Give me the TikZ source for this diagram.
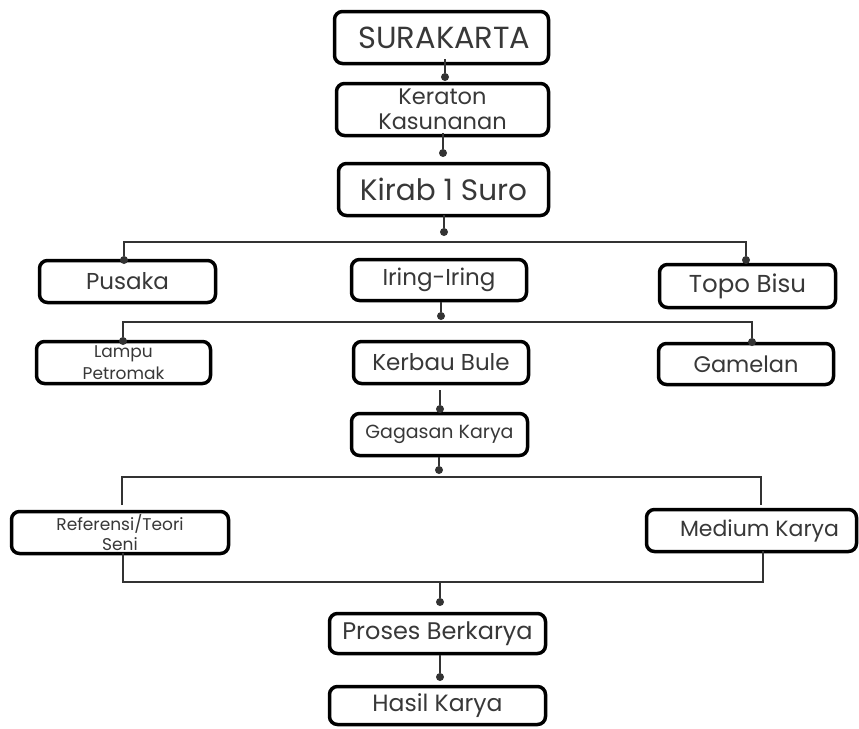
\documentclass[tikz,border=0pt]{standalone}
\usepackage{fontspec}
\setmainfont{Poppins}
\definecolor{txt}{HTML}{383838}
\definecolor{ln}{HTML}{333333}
\begin{document}
\begin{tikzpicture}[x=1pt,y=-1pt,
  box/.style={draw=black, line width=3.5pt, rounded corners=8pt, inner sep=0pt,
    text=txt, align=center, fill=white},
  conn/.style={draw=ln, line width=2pt},
  dot/.style={circle, fill=ln, inner sep=0pt, minimum size=8pt}]
\useasboundingbox (0,0) rectangle (859,728);
% boxes
\node[box, minimum width=214pt, minimum height=52pt, font=\fontsize{30.5}{34}\selectfont] (sura) at (441.5,37.5) {\hspace*{6pt}SURAKARTA};
\node[box, minimum width=212pt, minimum height=52pt, font=\fontsize{22.5}{25}\selectfont] (kera) at (442.5,109.5) {Keraton\\Kasunanan};
\node[box, minimum width=210pt, minimum height=52pt, font=\fontsize{29.5}{33}\selectfont] (kirab) at (443.5,189.5) {Kirab 1 Suro};
\node[box, minimum width=176pt, minimum height=42pt, font=\fontsize{23}{26}\selectfont] (pusaka) at (127.5,281.5) {Pusaka};
\node[box, minimum width=175pt, minimum height=41pt, font=\fontsize{23}{26}\selectfont] (iring) at (439,280) {Iring-Iring};
\node[box, minimum width=176pt, minimum height=43pt, font=\fontsize{24.5}{27}\selectfont] (topo) at (747.5,286) {Topo Bisu};
\node[box, minimum width=174pt, minimum height=42pt, font=\fontsize{17}{22}\selectfont] (lampu) at (123.5,362.5) {\raisebox{-2pt}{Lampu}\\\raisebox{-2pt}{Petromak}};
\node[box, minimum width=175pt, minimum height=42pt, font=\fontsize{23}{26}\selectfont] (kerbau) at (441,362.5) {Kerbau Bule};
\node[box, minimum width=175pt, minimum height=41pt, font=\fontsize{22.5}{26}\selectfont] (gamelan) at (746,364) {Gamelan};
\node[box, minimum width=176pt, minimum height=42pt, font=\fontsize{19}{24}\selectfont] (gagasan) at (439.5,434.5) {Gagasan Karya};
\node[box, minimum width=217pt, minimum height=42pt, font=\fontsize{17}{20}\selectfont] (ref) at (120,532.5) {Referensi/Teori\\Seni};
\node[box, minimum width=210pt, minimum height=42pt, font=\fontsize{22}{26}\selectfont] (medium) at (751.5,530.5) {\hspace*{16pt}Medium Karya};
\node[box, minimum width=216pt, minimum height=40pt, font=\fontsize{24}{28}\selectfont] (proses) at (437.5,633.5) {Proses Berkarya};
\node[box, minimum width=216pt, minimum height=38pt, font=\fontsize{23.5}{28}\selectfont] (hasil) at (437.5,705.5) {Hasil Karya};
% dots
\node[dot] (d1) at (445,77) {};
\node[dot] (d2) at (443,153) {};
\node[dot] (d3) at (444,232) {};
\node[dot] (dp) at (124,260) {};
\node[dot] (dt) at (746,260) {};
\node[dot] (d4) at (441,316) {};
\node[dot] (dl) at (123,341) {};
\node[dot] (dg) at (752,342) {};
\node[dot] (d5) at (440,409) {};
\node[dot] (d6) at (439,470) {};
\node[dot] (d7) at (440,602) {};
\node[dot] (d8) at (440,677) {};
% junction coordinates
\coordinate (a1) at (124,242);
\coordinate (a2) at (746,242);
\coordinate (b1) at (123,322);
\coordinate (b2) at (752,322);
\coordinate (c1) at (122,477);
\coordinate (c2) at (761,477);
\coordinate (c3) at (122,505);
\coordinate (c4) at (761,505);
\coordinate (e1) at (123,582);
\coordinate (e2) at (763,582);
% connectors
\draw[conn] (sura.south -| d1) ++(0,-6) -- (d1);
\draw[conn] (kera.south -| d2) ++(0,-4) -- (d2);
\draw[conn] (kirab.south -| d3) ++(0,-2) -- (d3);
\draw[conn] (dp) -- (a1) -- (a2) -- (dt);
\draw[conn] (iring.south -| d4) -- (d4);
\draw[conn] (dl) -- (b1) -- (b2) -- (dg);
\draw[conn] (kerbau.south -| d5) ++(0,5) -- (d5);
\draw[conn] (gagasan.south -| d6) -- (d6);
\draw[conn] (c3) -- (c1) -- (c2) -- (c4);
\draw[conn] (ref.south -| e1) ++(0,-2) -- (e1) -- (e2) -- ([yshift=2pt]medium.south -| e2);
\draw[conn] (d7 |- e1) -- (d7);
\draw[conn] (proses.south -| d8) -- (d8);
\end{tikzpicture}
\end{document}
